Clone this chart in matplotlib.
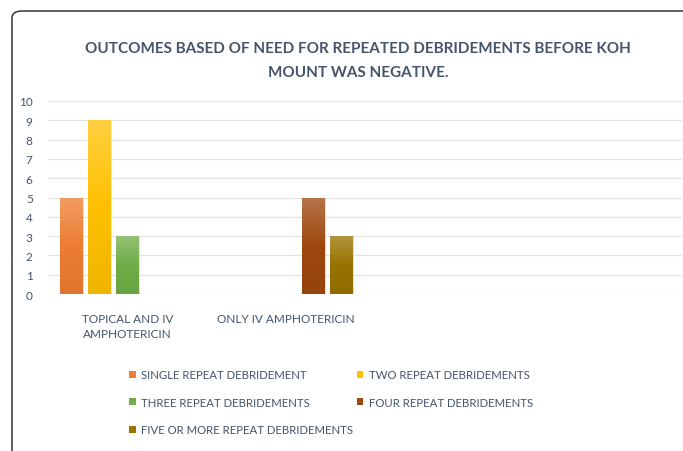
import numpy as np
import matplotlib
matplotlib.use("Agg")
import matplotlib.pyplot as plt
from matplotlib.patches import FancyBboxPatch, Patch
from matplotlib.colors import LinearSegmentedColormap, to_rgb

plt.rcParams['font.family'] = ['Lato', 'DejaVu Sans']

categories = ['TOPICAL AND IV\nAMPHOTERICIN', 'ONLY IV AMPHOTERICIN', '', '']
series_names = ['SINGLE REPEAT DEBRIDEMENT', 'TWO REPEAT DEBRIDEMENTS',
                'THREE REPEAT DEBRIDEMENTS', 'FOUR REPEAT DEBRIDEMENTS',
                'FIVE OR MORE REPEAT DEBRIDEMENTS']
single = [5, 0, 0, 0]
two = [9, 0, 0, 0]
three = [3, 0, 0, 0]
four = [0, 5, 0, 0]
five_plus = [0, 3, 0, 0]
series_values = [single, two, three, four, five_plus]
colors = ['#ED7D31', '#FFC000', '#70AD47', '#9E480E', '#997300']
yticks = list(range(0, 11))

text_color = '#44546A'

fig = plt.figure(figsize=(6.83, 4.52), dpi=100)
W, H = 683, 452

# outer rounded frame (cropped at right and bottom)
frame = FancyBboxPatch((12 / W, -0.1), 1.2, (H - 12) / H + 0.1,
                       boxstyle="round,pad=0,rounding_size=0.015",
                       transform=fig.transFigure, fill=False,
                       edgecolor='#222222', linewidth=1.0, zorder=0)
fig.patches.append(frame)

ax = fig.add_axes([48 / W, (H - 295) / H, (682 - 48) / W, (295 - 102) / H])
x = np.arange(len(categories))
slot = 0.1767
bw = 0.145

def lighten(c, f):
    r = np.array(to_rgb(c))
    return tuple(r + (1 - r) * f)

def darken(c, f):
    r = np.array(to_rgb(c))
    return tuple(r * (1 - f))

for i, (vals, col) in enumerate(zip(series_values, colors)):
    bars = ax.bar(x + (i - 2) * slot, vals, width=bw, color=col,
                  edgecolor='#f3e9dc', linewidth=0.6, zorder=2)
    cmap = LinearSegmentedColormap.from_list(
        'g', [darken(col, 0.06), col, lighten(col, 0.25)])
    grad = np.linspace(0, 1, 256).reshape(-1, 1)
    for b in bars:
        h = b.get_height()
        if h <= 0:
            continue
        x0 = b.get_x()
        im = ax.imshow(grad, cmap=cmap, aspect='auto', origin='lower',
                       extent=(x0, x0 + b.get_width(), 0, h), zorder=2.5)
        im.set_clip_path(b)

ax.set_xlim(-0.5, len(categories) - 0.5)
ax.set_ylim(0, 10)
ax.set_yticks(yticks)
ax.set_xticks(x)
ax.set_xticklabels(categories, fontsize=8.5, color=text_color, linespacing=1.45)
ax.tick_params(axis='x', length=0, pad=14)
ax.tick_params(axis='y', length=0, pad=11, labelsize=8.5, labelcolor=text_color)
for s in ax.spines.values():
    s.set_visible(False)
ax.grid(axis='y', color='#E3E3E3', linewidth=0.9, zorder=0)
ax.set_axisbelow(True)

fig.text(358 / W, 1 - 49 / H, 'OUTCOMES BASED OF NEED FOR REPEATED DEBRIDEMENTS BEFORE KOH',
         ha='center', va='center', fontsize=11, color=text_color, fontweight='bold')
fig.text(358 / W, 1 - 73 / H, 'MOUNT WAS NEGATIVE.',
         ha='center', va='center', fontsize=11, color=text_color, fontweight='bold')

handles = [Patch(facecolor=c, edgecolor='none') for c in colors]
order = [0, 2, 4, 1, 3]
leg = fig.legend([handles[k] for k in order], [series_names[k] for k in order],
                 ncol=2, loc='upper left',
                 bbox_to_anchor=(119 / W, 1 - 360 / H), frameon=False,
                 fontsize=8.2, handlelength=0.6, handleheight=0.6,
                 handletextpad=0.45, columnspacing=0.3, labelspacing=1.45,
                 labelcolor=text_color)

fig.savefig('out.png', dpi=100)
